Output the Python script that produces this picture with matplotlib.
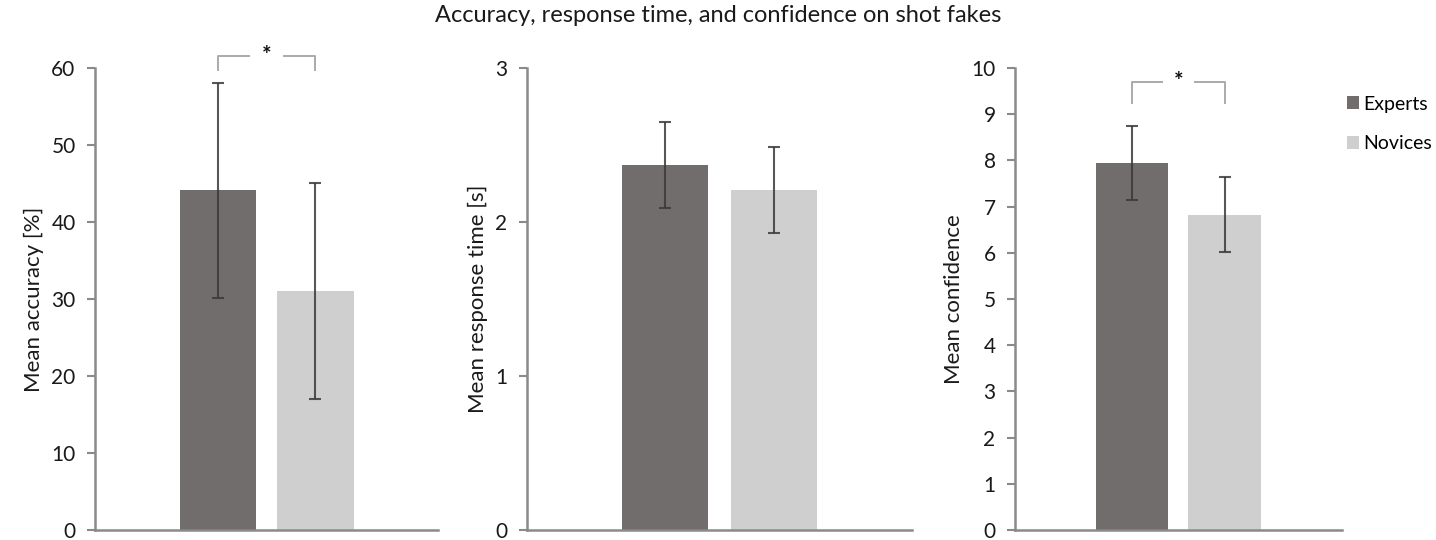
import matplotlib.pyplot as plt

plt.rcParams['font.family'] = ['Lato', 'DejaVu Sans']

groups = ["Experts", "Novices"]
colors = ["#716d6c", "#d0cfcf"]

accuracy = [44.1, 31.0]
accuracy_err = [14.0, 14.0]
rt = [2.37, 2.21]
rt_err = [0.28, 0.28]
confidence = [7.94, 6.82]
confidence_err = [0.80, 0.81]

panels = [
    dict(vals=accuracy, err=accuracy_err, ylim=60, ticks=range(0, 61, 10),
         label="Mean accuracy [%]", rect=[0.0662, 0.0185, 0.2389, 0.8556],
         star=(61.6, 59.8)),
    dict(vals=rt, err=rt_err, ylim=3, ticks=range(0, 4),
         label="Mean response time [s]", rect=[0.367, 0.0185, 0.268, 0.8556],
         star=None),
    dict(vals=confidence, err=confidence_err, ylim=10, ticks=range(0, 11),
         label="Mean confidence", rect=[0.7068, 0.0185, 0.2277, 0.8556],
         star=(9.7, 9.25)),
]

xpos = [-0.284, 0.284]
width = 0.446
ink = "#1a1a1a"

fig = plt.figure(figsize=(14.36, 5.4), dpi=100)

for p in panels:
    ax = fig.add_axes(p["rect"])
    for x, v, e, c, g in zip(xpos, p["vals"], p["err"], colors, groups):
        ax.bar(x, v, width=width, color=c, label=g, zorder=2)
        ax.errorbar(x, v, yerr=e, color="#3a3a3a", alpha=0.85, elinewidth=1.5,
                    capsize=4, capthick=1.5, zorder=3)
    ax.set_xlim(-1, 1)
    ax.set_ylim(0, p["ylim"])
    ax.set_yticks(list(p["ticks"]))
    ax.set_xticks([])
    for s in ["top", "right"]:
        ax.spines[s].set_visible(False)
    for s in ["left", "bottom"]:
        ax.spines[s].set_color("#8a8a8a")
        ax.spines[s].set_linewidth(1.8)
    ax.tick_params(axis="y", length=6, width=1.5, color="#8a8a8a",
                   labelsize=15, labelcolor=ink, pad=8)
    ax.set_ylabel(p["label"], fontsize=16, color=ink, labelpad=5)

    # significance bracket between the two bars
    if p["star"]:
        top, foot = p["star"]
        xl, xr = xpos
        kw = dict(color="#aaaaaa", lw=1.4, clip_on=False)
        ax.plot([xl, xl, -0.1], [foot, top, top], **kw)
        ax.plot([0.1, xr, xr], [top, top, foot], **kw)
        ax.text(0, top, "*", ha="center", va="center", fontsize=16,
                color="#111111", fontweight="bold", clip_on=False)

    if p is panels[-1]:
        ax.legend(loc="upper left", bbox_to_anchor=(1.015, 0.94), frameon=False,
                  fontsize=14, handlelength=0.65, handleheight=0.65,
                  handletextpad=0.2, labelspacing=1.15, borderpad=0,
                  borderaxespad=0)

fig.suptitle("Accuracy, response time, and confidence on shot fakes",
             x=0.5, y=0.99, fontsize=17, color=ink)

fig.savefig("out.png", dpi=100)
